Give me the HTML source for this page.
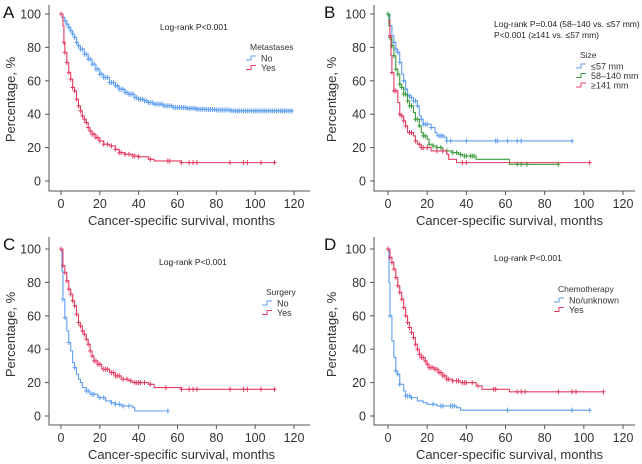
<!DOCTYPE html>
<html><head><meta charset="utf-8">
<style>
html,body{margin:0;padding:0;background:#fff;}
svg{display:block;font-family:"Liberation Sans",Arial,sans-serif;}
</style></head>
<body>
<svg id="chart" width="642" height="464" viewBox="0 0 642 464" xmlns="http://www.w3.org/2000/svg"></svg>
<script>
// ---- Panel A data ----
const aNoT = [0,1,2,3,4,5,6,7,8,9,10,12,14,16,18,20,22,25,28,30,33,35,38,40,43,45,48,50,53,55,58,60,65,70,75,80,88];
const aNoS = [100,98,96,94,92,90,88,86,83,81,79,76,73,70,67,64,62,59,57,55,53,52,50,49,48,47,46,46,45,45,44,44,43.5,43,42.8,42.5,42];
const aNoEnd = 119;
const aYesT = [0,1,1.5,2,3,4,5,6,7,8,9,10,11,12,13,14,15,16,18,20,22,25,28,30,33,37,40,45,48,62];
const aYesS = [100,93,83,77,71,65,61,56,54,49,45,42,39,37,35,32,30,28,26,24,22,21,19,17,16,15,14.5,13,12,11];
const aYesEnd = 110;
const aYesCens = [0,1.5,2,3,4,5,6,7,8,9,10,11,12,13,14,15,16,17,18,19,20,22,24,26,28,30,31,33,35,37,38,40,46,55,56,62,66,68,70,87,94,96,103,110];
// ---- Panel B data ----
const bSmT = [0,1,2,3,4,5,6,7,8,9,10,12,13,15,16,17,18,22,24,25,29,30];
const bSmS = [100,93,87,83,79,77,71,64,60,55,51,50,48,45,39,37,34,32,29,27,26,24];
const bSmEnd = 94;
const bSmCens = [1,3,4,5,6,8,9,10,11,12,13,14,15,17,18,19,20,22,26,27,28,30,32,40,55,56,61,66,68,94];
const bMidT = [0,0.5,1,2,3,4,5,6,7,8,10,11,13,14,16,17,18,20,21,23,25,28,33,36,38,45,62];
const bMidS = [100,93,86,81,75,67,64,58,56,52,48,45,41,37,33,29,27,25,22,21,20,18,17,16,15,13,10];
const bMidEnd = 87;
const bMidCens = [0,1,2,3,4,5,6,7,8,9,10,11,12,14,15,16,18,19,21,23,25,27,30,33,35,37,39,40,42,43,44,66,68,71,87];
const bLgT = [0,1,1.5,2,3,5,6,7,8,9,10,13,14,15,17,22,30,31,35];
const bLgS = [96,87,75,65,54,47,40,39,36,33,29,27,24,22,20,18,16,13,11];
const bLgEnd = 103;
const bLgCens = [1,2,3,4,6,7,8,9,11,12,14,16,17,18,20,25,28,38,40,103];
// ---- Panel C data ----
const cNoT = [0,0.5,1,2,3,4,5,6,7,8,9,10,11,13,15,19,23,26,28,31,37,38];
const cNoS = [100,87,70,59,51,44,39,32,29,25,22,20,17,15,13,11,9,8,7,6,5,3];
const cNoEnd = 55;
const cNoCens = [1,2,4,7,13,14,16,17,20,22,26,28,30,32,35,55];
const cYesT = [0,1,2,3,4,5,6,7,8,9,10,11,12,13,14,15,16,17,19,21,25,28,31,35,37,45,48,62];
const cYesS = [100,90,86,81,76,73,69,66,61,56,54,51,49,46,43,39,36,33,31,28,26,24,22,21,20,19,17,16];
const cYesEnd = 110;
const cYesCens = [0,1,2,3,4,5,6,7,8,9,10,11,12,13,14,15,16,17,18,19,20,22,23,24,26,27,28,29,30,32,34,36,38,39,40,41,43,46,54,62,66,68,70,87,94,96,103,110];
// ---- Panel D data ----
const dNoT = [0,0.5,1,2,3,4,5,6,8,9,12,15,18,20,25,35,37];
const dNoS = [100,80,60,45,35,27,25,19,15,12,11,9,8,7,6,5,3.5];
const dNoEnd = 103;
const dNoCens = [1,4,5,6,9,10,11,12,23,27,28,32,33,34,61,94,103];
const dYesT = [0,1,2,3,4,5,6,7,8,9,10,11,12,13,14,15,16,17,19,20,21,24,26,28,30,33,37,45,48,62];
const dYesS = [100,95,92,88,83,78,74,70,65,60,56,53,50,47,43,40,37,35,33,31,29,28,26,24,22,21,20,18,16,14.5];
const dYesEnd = 110;
const dYesCens = [0,1,2,3,4,5,6,7,8,9,10,11,12,13,14,15,16,17,18,19,20,21,22,23,24,25,26,27,28,29,30,31,33,35,36,38,39,40,43,46,54,55,66,68,70,87,94,96,110];

const xTicks = [0,20,40,60,80,100,120];
const yTicks = [0,20,40,60,80,100];
const BLUE = "#5f9ef0", RED = "#e43d63", GREEN = "#3c9b3c";
const NS = "http://www.w3.org/2000/svg";
const svg = document.getElementById('chart');

function el(tag, attrs, parent, text){
  const e = document.createElementNS(NS, tag);
  for (const k in attrs) e.setAttribute(k, attrs[k]);
  if (text !== undefined) e.textContent = text;
  (parent || svg).appendChild(e);
  return e;
}

function panel(name, ox, oy, letter, x0, x120, y100, y0, axL, axB, pText, legendTitle, legendX, legendY, series){
  const g = el('g', {});
  
  
  const xs = v => x0 + (x120 - x0) * v / 120;
  const ys = v => y0 + (y100 - y0) * v / 100;
  // axes
  const ax = el('path', {d:`M${axL} ${oy+5}V${axB}H${axL+261}`, stroke:'#555', 'stroke-width':1, fill:'none'}, g);
  
  
  xTicks.forEach(t => {
    el('line', {x1:xs(t), x2:xs(t), y1:axB, y2:axB+4, stroke:'#555'}, g);
    const tl = el('text', {x:xs(t), y:axB+17, 'font-size':12.5, 'text-anchor':'middle', fill:'#333'}, g, t);
    
    
  });
  yTicks.forEach(t => {
    el('line', {x1:axL-4, x2:axL, y1:ys(t), y2:ys(t), stroke:'#555'}, g);
    const tl = el('text', {x:axL-8, y:ys(t)+4.5, 'font-size':12.5, 'text-anchor':'end', fill:'#333'}, g, t);
    
    
  });
  const xt = el('text', {x:xs(60)+4, y:axB+34, 'font-size':13, 'text-anchor':'middle', fill:'#333'}, g, 'Cancer-specific survival, months');
  
  
  const yt = el('text', {x:0, y:0, 'font-size':13, 'text-anchor':'middle', fill:'#333', transform:`translate(${ox+15},${(y100+y0)/2+2}) rotate(-90)`}, g, 'Percentage, %');
  
  
  const lt = el('text', {x:ox+3, y:oy+18, 'font-size':17, fill:'#111'}, g, letter);
  
  
  pText.forEach((s, i) => {
    const pt = el('text', {x:pText.x, y:pText.y + i*11, 'font-size':8.5, fill:'#222'}, g, s);
    
    
  });
  const lg = el('text', {x:legendX, y:legendY, 'font-size':8.5, fill:'#333'}, g, legendTitle);
  
  
  series.forEach((s, i) => {
    const ly = legendY + 10 + i*9.5;
    const le = el('path', {d:`M${legendX-4} ${ly}h5v-4h5`, stroke:s.color, fill:'none', 'stroke-width':1}, g);
    
    
    const ltx = el('text', {x:legendX+11, y:ly+1.5, 'font-size':9, fill:'#333'}, g, s.label);
    
    
    // step curve
    let d = `M${xs(s.t[0])} ${ys(s.s[0])}`;
    for (let k = 1; k < s.t.length; k++){
      d += `H${xs(s.t[k])}V${ys(s.s[k])}`;
    }
    d += `H${xs(s.end)}`;
    const p = el('path', {d, stroke:s.color, fill:'none', 'stroke-width':1.1}, g);
    
    
    const survAt = tt => { let v = s.s[0]; for (let k = 0; k < s.t.length; k++) if (s.t[k] <= tt) v = s.s[k]; return v; };
    let cd = '';
    s.cens.forEach(c => {
      const cx = xs(c), cy = ys(survAt(c));
      cd += `M${cx-2} ${cy}h4M${cx} ${cy-2.5}v5`;
    });
    const cp = el('path', {d:cd, stroke:s.color, fill:'none', 'stroke-width':1}, g);
    
    
  });
}

function arr(a, x, y){ a.x = x; a.y = y; return a; }

// dense censoring for Panel A "No": one mark per month
const aNoCens = [];
for (let m = 0; m <= aNoEnd; m += 1) aNoCens.push(m);

panel('a', 0, 0, 'A', 61, 294, 14, 181, 49, 191,
  arr(['Log-rank P<0.001'], 160, 30), 'Metastases', 250, 50,
  [{label:'No', color:BLUE, t:aNoT, s:aNoS, end:aNoEnd, cens:aNoCens},
   {label:'Yes', color:RED, t:aYesT, s:aYesS, end:aYesEnd, cens:aYesCens}]);
panel('b', 321, 0, 'B', 388, 623, 14, 181, 374, 191,
  arr(['Log-rank P=0.04 (58–140 vs. ≤57 mm)', 'P<0.001 (≥141 vs. ≤57 mm)'], 494, 27), 'Size', 580, 58,
  [{label:'≤57 mm', color:BLUE, t:bSmT, s:bSmS, end:bSmEnd, cens:bSmCens},
   {label:'58–140 mm', color:GREEN, t:bMidT, s:bMidS, end:bMidEnd, cens:bMidCens},
   {label:'≥141 mm', color:RED, t:bLgT, s:bLgS, end:bLgEnd, cens:bLgCens}]);
panel('c', 0, 232, 'C', 61, 294, 249, 416, 49, 425,
  arr(['Log-rank P<0.001'], 159, 265), 'Surgery', 266, 295,
  [{label:'No', color:BLUE, t:cNoT, s:cNoS, end:cNoEnd, cens:cNoCens},
   {label:'Yes', color:RED, t:cYesT, s:cYesS, end:cYesEnd, cens:cYesCens}]);
panel('d', 321, 232, 'D', 388, 623, 249, 416, 374, 425,
  arr(['Log-rank P<0.001'], 494, 261), 'Chemotherapy', 558, 292,
  [{label:'No/unknown', color:BLUE, t:dNoT, s:dNoS, end:dNoEnd, cens:dNoCens},
   {label:'Yes', color:RED, t:dYesT, s:dYesS, end:dYesEnd, cens:dYesCens}]);
</script>
</body></html>
